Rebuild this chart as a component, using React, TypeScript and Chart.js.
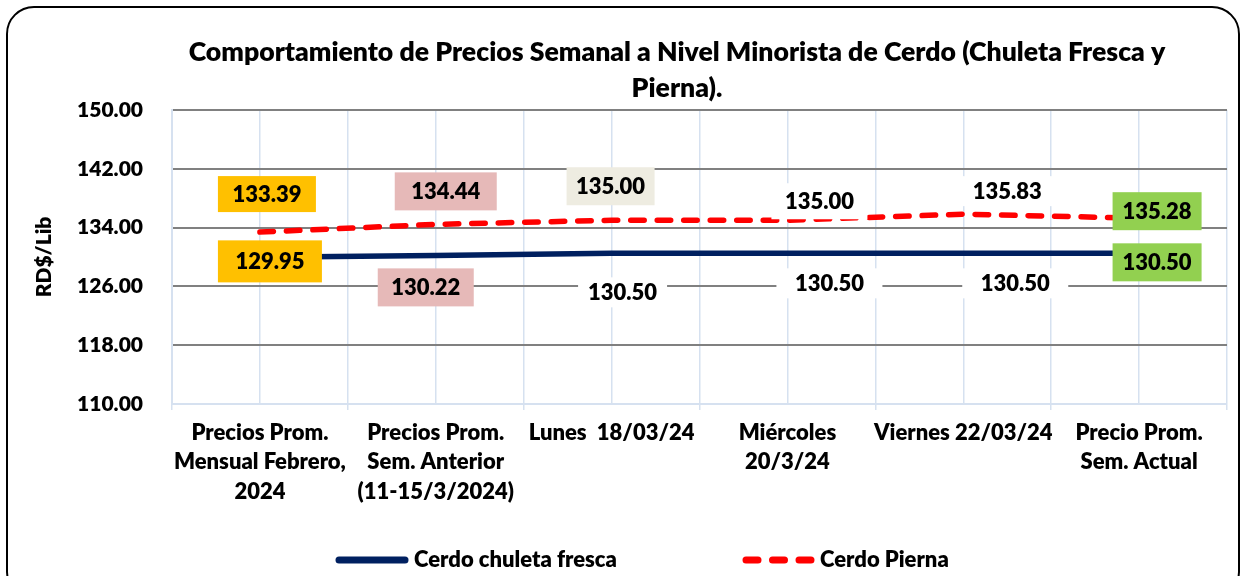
import React, { useEffect, useRef } from "react";
import { Chart, registerables } from "chart.js";

Chart.register(...registerables);

const categories = [
  ["Precios Prom.", "Mensual Febrero,", "2024"],
  ["Precios Prom.", "Sem. Anterior", "(11-15/3/2024)"],
  ["Lunes  18/03/24"],
  ["Miércoles", "20/3/24"],
  ["Viernes 22/03/24"],
  ["Precio Prom.", "Sem. Actual"],
];
const chuletaValues = [129.95, 130.22, 130.5, 130.5, 130.5, 130.5];
const piernaValues = [133.39, 134.44, 135.0, 135.0, 135.83, 135.28];
const seriesNames = ["Cerdo chuleta fresca", "Cerdo Pierna"];
const titleLines = [
  "Comportamiento de Precios Semanal a Nivel Minorista de Cerdo (Chuleta Fresca y",
  "Pierna).",
];
const yAxisTitle = "RD$/Lib";
const yMin = 110;
const yMax = 150;
const yStep = 8;

const FONT = "Lato";
const W = 800;
const ORANGE = "#FFC000";
const PINK = "#E6B9B8";
const BEIGE = "#EEECE1";
const GREEN = "#92D050";
const WHITE = "#FFFFFF";
const NAVY = "#002060";
const RED = "#FF0000";
const GRID_GRAY = "#808080";
const LIGHT_BLUE = "#D6E1F0";

// label box placement (offset from point centre), size and fill
const chuletaBoxes = [
  { dx: 10, dy: 4, w: 104, h: 42, bg: ORANGE },
  { dx: -10, dy: 32, w: 96, h: 38, bg: PINK },
  { dx: 11, dy: 39, w: 89, h: 30, bg: WHITE },
  { dx: 42, dy: 30, w: 106, h: 30, bg: WHITE },
  { dx: 52, dy: 30, w: 106, h: 30, bg: WHITE },
  { dx: 18, dy: 9, w: 89, h: 38, bg: GREEN },
];
const piernaBoxes = [
  { dx: 7, dy: -38, w: 98, h: 36, bg: ORANGE },
  { dx: 10, dy: -33, w: 102, h: 38, bg: PINK },
  { dx: -1, dy: -34, w: 88, h: 38, bg: BEIGE },
  { dx: 32, dy: -19, w: 96, h: 36, bg: WHITE },
  { dx: 44, dy: -23, w: 90, h: 30, bg: WHITE },
  { dx: 18, dy: -7, w: 89, h: 38, bg: GREEN },
];

const boxLabelPlugin = {
  id: "boxLabels",
  afterDatasetsDraw(chart: any) {
    const ctx = chart.ctx;
    chart.data.datasets.forEach((ds: any, di: number) => {
      const meta = chart.getDatasetMeta(di);
      const boxes = ds.labelBoxes || [];
      meta.data.forEach((pt: any, i: number) => {
        const b = boxes[i];
        if (!b) return;
        const cx = pt.x + b.dx;
        const cy = pt.y + b.dy;
        ctx.save();
        ctx.fillStyle = b.bg;
        ctx.fillRect(cx - b.w / 2, cy - b.h / 2, b.w, b.h);
        ctx.fillStyle = "#000";
        ctx.font = `${W} 22px ${FONT}`;
        ctx.textAlign = "center";
        ctx.textBaseline = "middle";
        ctx.fillText(Number(ds.data[i]).toFixed(2), cx, cy + 1);
        ctx.restore();
      });
    });
  },
};

const titlePlugin = {
  id: "customTitle",
  afterDraw(chart: any) {
    const o = chart.options.plugins.customTitle;
    const ctx = chart.ctx;
    ctx.save();
    ctx.fillStyle = "#000";
    ctx.font = `${W} ${o.size}px ${FONT}`;
    ctx.textAlign = "center";
    ctx.textBaseline = "middle";
    o.lines.forEach((t: string, i: number) => {
      ctx.fillText(t, o.x, o.y + i * o.lineGap);
    });
    ctx.restore();
  },
};

const legendPlugin = {
  id: "customLegend",
  afterDraw(chart: any) {
    const o = chart.options.plugins.customLegend;
    const ctx = chart.ctx;
    chart.data.datasets.forEach((ds: any, i: number) => {
      const it = o.items[i];
      ctx.save();
      ctx.strokeStyle = ds.borderColor;
      ctx.lineWidth = o.lineWidth;
      ctx.lineCap = "round";
      ctx.setLineDash(it.dash || []);
      ctx.beginPath();
      ctx.moveTo(it.x0, o.y);
      ctx.lineTo(it.x1, o.y);
      ctx.stroke();
      ctx.setLineDash([]);
      ctx.fillStyle = "#000";
      ctx.font = `${W} ${o.size}px ${FONT}`;
      ctx.textAlign = "left";
      ctx.textBaseline = "middle";
      ctx.fillText(ds.label, it.tx, o.y);
      ctx.restore();
    });
  },
};

export default function App() {
  const ref = useRef<HTMLCanvasElement>(null);

  useEffect(() => {
    if (!ref.current) return;
    Chart.defaults.font.family = FONT;
    Chart.defaults.color = "#000";
    const chart = new Chart(ref.current, {
      type: "line",
      data: {
        labels: categories as any,
        datasets: [
          {
            label: seriesNames[0],
            data: chuletaValues,
            borderColor: NAVY,
            backgroundColor: NAVY,
            borderWidth: 5.5,
            pointRadius: 0,
            tension: 0,
            fill: false,
            labelBoxes: chuletaBoxes,
          } as any,
          {
            label: seriesNames[1],
            data: piernaValues,
            borderColor: RED,
            backgroundColor: RED,
            borderWidth: 5.5,
            borderDash: [13.5, 13],
            borderCapStyle: "round",
            pointRadius: 0,
            tension: 0,
            fill: false,
            labelBoxes: piernaBoxes,
          } as any,
        ],
      },
      options: {
        responsive: false,
        animation: false,
        layout: { padding: { left: 20, right: 17, top: 110, bottom: 0 } },
        scales: {
          x: {
            type: "category",
            offset: true,
            grid: {
              offset: true,
              color: LIGHT_BLUE,
              lineWidth: 1.5,
              drawTicks: true,
              tickLength: 6,
            },
            border: { display: true, color: LIGHT_BLUE, width: 2 },
            ticks: {
              autoSkip: false,
              maxRotation: 0,
              minRotation: 0,
              padding: 8,
              color: "#000",
              font: { family: FONT, size: 22, weight: W as any, lineHeight: 1.34 },
            },
            afterFit: (s: any) => {
              s.height = 172;
            },
          },
          x2: {
            type: "category",
            position: "bottom",
            weight: 1,
            offset: true,
            grid: {
              offset: false,
              color: LIGHT_BLUE,
              lineWidth: 1.5,
              drawTicks: false,
            },
            border: { display: false },
            ticks: { display: false },
            afterFit: (s: any) => {
              s.height = 0;
            },
          },
          y: {
            min: yMin,
            max: yMax,
            ticks: {
              stepSize: yStep,
              padding: 29,
              color: "#000",
              font: { family: FONT, size: 21, weight: W as any },
              callback: (v: any) => Number(v).toFixed(2),
            },
            grid: {
              drawTicks: false,
              lineWidth: 2,
              color: (c: any) =>
                c.tick && c.tick.value === yMin ? "rgba(0,0,0,0)" : GRID_GRAY,
            },
            border: { display: true, color: LIGHT_BLUE, width: 2 },
            title: {
              display: true,
              text: yAxisTitle,
              color: "#000",
              font: { family: FONT, size: 21, weight: W as any },
              padding: { top: 12, bottom: 0 },
            },
            afterFit: (s: any) => {
              s.width = 152;
            },
          },
        },
        plugins: {
          legend: { display: false },
          title: { display: false },
          tooltip: { enabled: false },
          customTitle: { lines: titleLines, x: 677, y: 52, lineGap: 36, size: 26.6 },
          customLegend: {
            y: 560,
            size: 22,
            lineWidth: 7,
            items: [
              { x0: 339, x1: 405, tx: 414 },
              { x0: 746, x1: 811.5, tx: 820, dash: [12, 14.5] },
            ],
          },
        } as any,
      },
      plugins: [boxLabelPlugin, titlePlugin, legendPlugin],
    });
    return () => chart.destroy();
  }, []);

  return (
    <div
      style={{
        position: "fixed",
        left: 0,
        top: 0,
        width: 1244,
        height: 576,
        background: "#fff",
        overflow: "hidden",
      }}
    >
      <canvas ref={ref} width={1244} height={576} style={{ display: "block" }} />
      <div
        style={{
          position: "absolute",
          left: 6,
          top: 6,
          width: 1230,
          height: 590,
          border: "2px solid #000",
          borderRadius: 28,
          pointerEvents: "none",
        }}
      />
    </div>
  );
}
